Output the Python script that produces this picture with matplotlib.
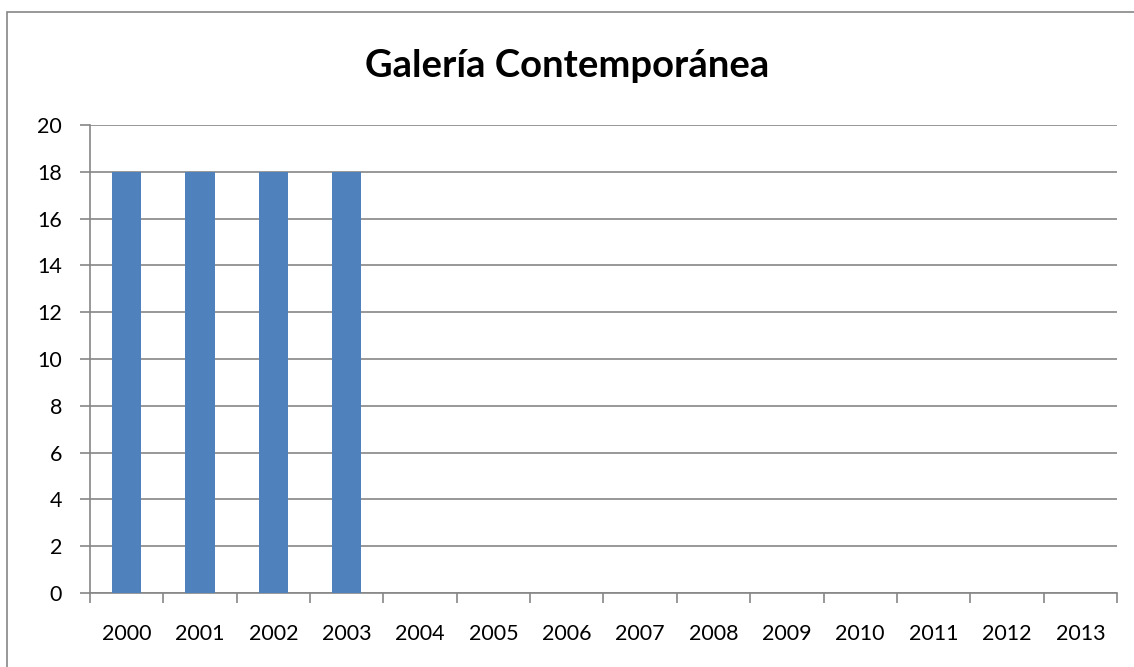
import matplotlib
matplotlib.use("Agg")
import matplotlib.pyplot as plt
from matplotlib.patches import Rectangle

years = ["2000", "2001", "2002", "2003", "2004", "2005", "2006",
         "2007", "2008", "2009", "2010", "2011", "2012", "2013"]
values = [18, 18, 18, 18, 0, 0, 0, 0, 0, 0, 0, 0, 0, 0]
y_ticks = [0, 2, 4, 6, 8, 10, 12, 14, 16, 18, 20]

plt.rcParams["font.family"] = ["Lato", "DejaVu Sans"]
grey = "#868686"

fig = plt.figure(figsize=(11.34, 6.67), dpi=100)
ax = fig.add_axes([90 / 1134, 1 - 593 / 667, 1027 / 1134, 468 / 667])

# outer chart frame
fig.patches.append(Rectangle((7 / 1134, -0.01), 1.0, 1 - 12 / 667 + 0.01,
                             transform=fig.transFigure, fill=False,
                             edgecolor=grey, linewidth=1.2))

x = list(range(len(years)))
ax.bar(x, values, width=0.4, color="#4f81bd", zorder=3)

ax.set_xlim(-0.5, len(years) - 0.5)
ax.set_ylim(0, 20)
ax.set_yticks(y_ticks)
ax.set_yticklabels([str(v) for v in y_ticks], fontsize=15.5)
ax.yaxis.grid(True, color=grey, linewidth=1.2, zorder=0)

ax.set_xticks(x)
ax.set_xticklabels(years, fontsize=15.5)
ax.tick_params(axis="x", length=0, pad=22)
ax.set_xticks([i - 0.5 for i in range(len(years) + 1)], minor=True)
ax.tick_params(axis="x", which="minor", length=7, color=grey, width=1.2)
ax.tick_params(axis="y", length=7, color=grey, width=1.2, pad=13)

for side in ["top", "right"]:
    ax.spines[side].set_visible(False)
for side in ["left", "bottom"]:
    ax.spines[side].set_color(grey)
    ax.spines[side].set_linewidth(1.2)

fig.text(567 / 1134, 1 - 66 / 667, "Galería Contemporánea",
         ha="center", va="center", fontsize=27.5, fontweight="bold")

fig.savefig("out.png", dpi=100)
plt.close(fig)
